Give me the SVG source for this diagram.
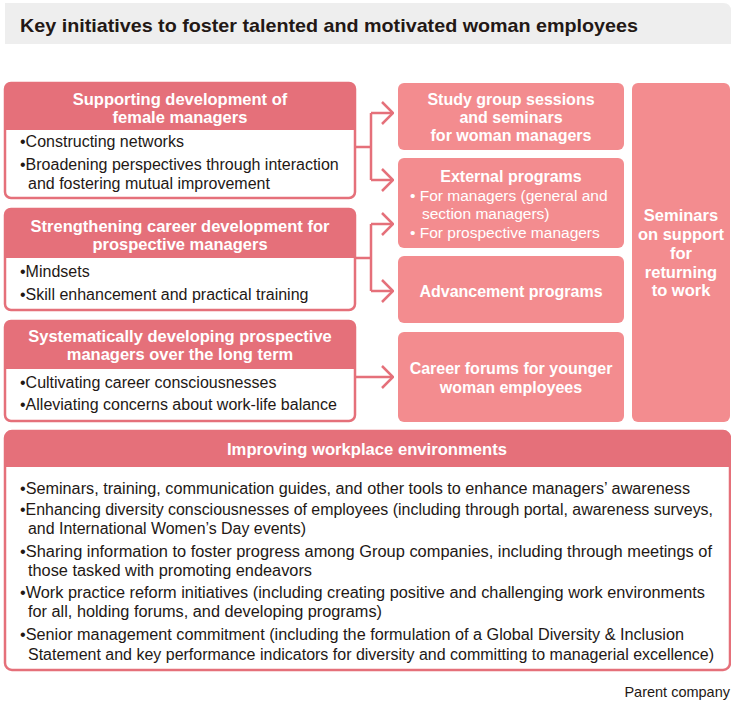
<svg xmlns="http://www.w3.org/2000/svg" width="731" height="708" viewBox="0 0 731 708">
<style>
text{font-family:"Liberation Sans",Arial,sans-serif;}
.title{font-size:19px;font-weight:bold;fill:#231815;}
.hd{font-size:16.5px;font-weight:bold;fill:#fff;text-anchor:middle;}
.bd{font-size:16px;fill:#231815;}
.bb{font-size:16px;fill:#231815;}
.rt{font-size:16px;font-weight:bold;fill:#fff;text-anchor:middle;}
.rs{font-size:15.5px;fill:#fff;}
.hdr{fill:#e5707a;}
.frame{fill:none;stroke:#e5707a;stroke-width:2.5;}
.pink{fill:#f38c8f;}
.conn{fill:none;stroke:#e5707a;stroke-width:2.5;}
.note{font-size:14.5px;fill:#231815;text-anchor:end;}
</style>
<defs>
<marker id="arr" markerUnits="userSpaceOnUse" viewBox="0 0 13 24" refX="12" refY="12" markerWidth="13" markerHeight="24" orient="auto">
<path d="M1,1 L12,12 L1,23" fill="none" stroke="#e5707a" stroke-width="2.5"/>
</marker>
</defs>
<rect width="731" height="708" fill="#fff"/>
<g id="title">
<path d="M5,3 H723 Q731,3 731,11 V44 H5 Z" fill="#eeeeee"/>
<text class="title" x="20" y="32" textLength="618" lengthAdjust="spacingAndGlyphs">Key initiatives to foster talented and motivated woman employees</text>
</g>
<g id="box-female-managers">
<rect x="5" y="83" width="350" height="115" rx="6" fill="#fff"/>
<path class="hdr" d="M5,130 V89 Q5,83 11,83 H349 Q355,83 355,89 V130 Z"/>
<rect class="frame" x="5" y="83" width="350" height="115" rx="6"/>
<text class="hd" x="180" y="105">Supporting development of</text>
<text class="hd" x="180" y="123">female managers</text>
<text class="bd" x="20" y="147">•Constructing networks</text>
<text class="bd" x="20" y="170">•Broadening perspectives through interaction</text>
<text class="bd" x="28" y="189">and fostering mutual improvement</text>
</g>
<g id="box-career-development">
<rect x="5" y="209" width="350" height="101" rx="6" fill="#fff"/>
<path class="hdr" d="M5,258 V215 Q5,209 11,209 H349 Q355,209 355,215 V258 Z"/>
<rect class="frame" x="5" y="209" width="350" height="101" rx="6"/>
<text class="hd" x="180" y="232">Strengthening career development for</text>
<text class="hd" x="180" y="250">prospective managers</text>
<text class="bd" x="20" y="277">•Mindsets</text>
<text class="bd" x="20" y="300">•Skill enhancement and practical training</text>
</g>
<g id="box-long-term">
<rect x="5" y="321" width="350" height="100" rx="6" fill="#fff"/>
<path class="hdr" d="M5,369 V327 Q5,321 11,321 H349 Q355,321 355,327 V369 Z"/>
<rect class="frame" x="5" y="321" width="350" height="100" rx="6"/>
<text class="hd" x="180" y="342">Systematically developing prospective</text>
<text class="hd" x="180" y="360">managers over the long term</text>
<text class="bd" x="20" y="388">•Cultivating career consciousnesses</text>
<text class="bd" x="20" y="410">•Alleviating concerns about work-life balance</text>
</g>
<g id="box-study-group">
<rect class="pink" x="398" y="83" width="226" height="67" rx="6"/>
<text class="rt" x="511" y="105">Study group sessions</text>
<text class="rt" x="511" y="123">and seminars</text>
<text class="rt" x="511" y="141">for woman managers</text>
</g>
<g id="box-external">
<rect class="pink" x="398" y="158" width="226" height="90" rx="6"/>
<text class="rt" x="511" y="182">External programs</text>
<text class="rs" x="410" y="201">• For managers (general and</text>
<text class="rs" x="422" y="219">section managers)</text>
<text class="rs" x="410" y="238">• For prospective managers</text>
</g>
<g id="box-advancement">
<rect class="pink" x="398" y="256" width="226" height="67" rx="6"/>
<text class="rt" x="511" y="297">Advancement programs</text>
</g>
<g id="box-career-forums">
<rect class="pink" x="398" y="332" width="226" height="90" rx="6"/>
<text class="rt" x="511" y="374">Career forums for younger</text>
<text class="rt" x="511" y="393">woman employees</text>
</g>
<g id="box-returning">
<rect class="pink" x="632" y="83" width="98" height="339" rx="6"/>
<text class="rt" x="681" y="221" style="font-size:16.5px">Seminars</text>
<text class="rt" x="681" y="240" style="font-size:16.5px">on support</text>
<text class="rt" x="681" y="259" style="font-size:16.5px">for</text>
<text class="rt" x="681" y="278" style="font-size:16.5px">returning</text>
<text class="rt" x="681" y="296" style="font-size:16.5px">to work</text>
</g>
<g id="box-workplace">
<rect x="5" y="431" width="725" height="239" rx="7" fill="#fff"/>
<path class="hdr" d="M5,467 V438 Q5,431 12,431 H723 Q730,431 730,438 V467 Z"/>
<rect class="frame" x="5" y="431" width="725" height="239" rx="7"/>
<text class="hd" x="367" y="455" textLength="280" lengthAdjust="spacingAndGlyphs">Improving workplace environments</text>
<text class="bb" x="20" y="494" textLength="670" lengthAdjust="spacingAndGlyphs">•Seminars, training, communication guides, and other tools to enhance managers’ awareness</text>
<text class="bb" x="20" y="515" textLength="693" lengthAdjust="spacingAndGlyphs">•Enhancing diversity consciousnesses of employees (including through portal, awareness surveys,</text>
<text class="bb" x="28" y="534" textLength="278" lengthAdjust="spacingAndGlyphs">and International Women’s Day events)</text>
<text class="bb" x="20" y="557" textLength="692" lengthAdjust="spacingAndGlyphs">•Sharing information to foster progress among Group companies, including through meetings of</text>
<text class="bb" x="28" y="576" textLength="284" lengthAdjust="spacingAndGlyphs">those tasked with promoting endeavors</text>
<text class="bb" x="20" y="598" textLength="685" lengthAdjust="spacingAndGlyphs">•Work practice reform initiatives (including creating positive and challenging work environments</text>
<text class="bb" x="28" y="617" textLength="354" lengthAdjust="spacingAndGlyphs">for all, holding forums, and developing programs)</text>
<text class="bb" x="20" y="640" textLength="664" lengthAdjust="spacingAndGlyphs">•Senior management commitment (including the formulation of a Global Diversity &amp; Inclusion</text>
<text class="bb" x="28" y="660" textLength="686" lengthAdjust="spacingAndGlyphs">Statement and key performance indicators for diversity and committing to managerial excellence)</text>
</g>
<g id="connectors">
<path class="conn" d="M355,147 H371 M371,113 V180"/>
<path class="conn" d="M371,113 H393" marker-end="url(#arr)"/>
<path class="conn" d="M371,180 H393" marker-end="url(#arr)"/>
<path class="conn" d="M355,258 H371 M371,224 V291"/>
<path class="conn" d="M371,224 H393" marker-end="url(#arr)"/>
<path class="conn" d="M371,291 H393" marker-end="url(#arr)"/>
<path class="conn" d="M355,377 H393" marker-end="url(#arr)"/>
</g>
<text class="note" x="730" y="697">Parent company</text>
</svg>
